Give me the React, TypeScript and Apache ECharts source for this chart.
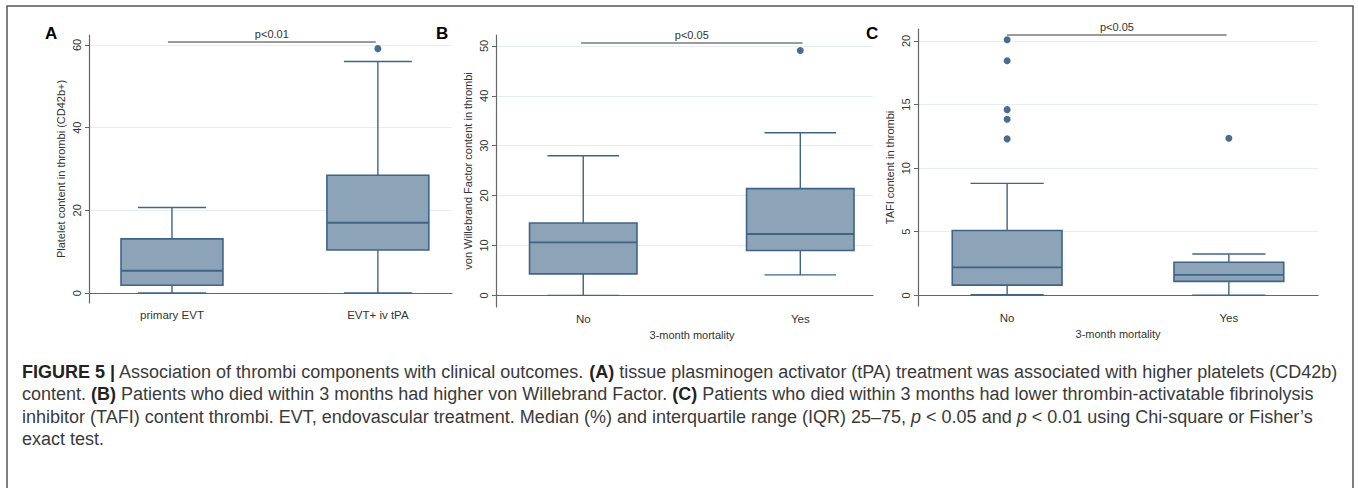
import React, { useEffect, useRef } from "react";
import * as echarts from "echarts";

// ---------- data ----------
const catsA = ["primary EVT", "EVT+ iv tPA"];
// [position, min, q1, median, q3, max]
const boxesA = [
  [1, 0, 1.9, 5.4, 13.1, 20.7],
  [2, 0, 10.4, 17.0, 28.5, 56.0],
];
const outliersA = [[2, 59.1]];
const ticksA = [0, 20, 40, 60];

const catsB = ["No", "Yes"];
const boxesB = [
  [1, 0, 4.3, 10.6, 14.5, 28.0],
  [2, 4.1, 9.0, 12.3, 21.4, 32.6],
];
const outliersB = [[2, 49.1]];
const ticksB = [0, 10, 20, 30, 40, 50];

const catsC = ["No", "Yes"];
const boxesC = [
  [1, 0.05, 0.8, 2.2, 5.1, 8.8],
  [2, 0, 1.1, 1.6, 2.6, 3.25],
];
const outliersC = [
  [1, 20.1],
  [1, 18.45],
  [1, 14.6],
  [1, 13.85],
  [1, 12.3],
  [2, 12.35],
];
const ticksC = [0, 5, 10, 15, 20];

const yNames = [
  "Platelet content in thrombi (CD42b+)",
  "von Willebrand Factor content in thrombi",
  "TAFI content in thrombi",
];
const xNames = ["", "3-month mortality", "3-month mortality"];
const pLabels = ["p<0.01", "p<0.05", "p<0.05"];
const panelLetters = ["A", "B", "C"];

const captionLines = [
  "{b|FIGURE 5 |} Association of thrombi components with clinical outcomes. {b|(A)} tissue plasminogen activator (tPA) treatment was associated with higher platelets (CD42b)",
  "content. {b|(B)} Patients who died within 3 months had higher von Willebrand Factor. {b|(C)} Patients who died within 3 months had lower thrombin-activatable fibrinolysis",
  "inhibitor (TAFI) content thrombi. EVT, endovascular treatment. Median (%) and interquartile range (IQR) 25\u201375, {i|p} < 0.05 and {i|p} < 0.01 using Chi-square or Fisher\u2019s",
  "exact test.",
];

// ---------- layout / style ----------
const FONT = "'Liberation Sans', Arial, Helvetica, sans-serif";
const BOX_FILL = "#8da3b7";
const BOX_LINE = "#3f6487";
const DOT = "#1b4775";
const AXIS = "#666666";
const GRID = "#e5eef0";
const CAP_SIZE = 18;

const grids = [
  { left: 89, top: 35, width: 363, height: 268 },
  { left: 496, top: 35, width: 377, height: 272 },
  { left: 918, top: 29, width: 400, height: 277 },
];
const xRanges = [
  [0.597, 2.36],
  [0.598, 2.335],
  [0.598, 2.402],
];
const yRanges = [
  [-2.4, 62.4],
  [-2.34, 52.2],
  [-0.84, 20.94],
];
const pBars = [
  { from: 0.98, to: 1.99, y: 60.8 },
  { from: 0.99, to: 2.01, y: 50.74 },
  { from: 1.0, to: 1.99, y: 20.47 },
];
const letterPos = [
  [45, 33],
  [436, 33],
  [866, 33],
];

const BW = 0.2475; // box half width (axis units)
const CW = 0.165; // cap half width

function renderBox(params: any, api: any) {
  const x = api.value(0);
  const mn = api.value(1);
  const q1 = api.value(2);
  const md = api.value(3);
  const q3 = api.value(4);
  const mx = api.value(5);
  const c = (dx: number, v: number) => api.coord([x + dx, v]);
  const [cx, yMax] = c(0, mx);
  const [, yMin] = c(0, mn);
  const [xl, yQ3] = c(-BW, q3);
  const [xr, yQ1] = c(BW, q1);
  const [, yMd] = c(0, md);
  const [cl] = c(-CW, 0);
  const [cr] = c(CW, 0);
  const ls = { stroke: BOX_LINE, lineWidth: 1.4 };
  return {
    type: "group",
    children: [
      { type: "line", shape: { x1: cx, y1: yMax, x2: cx, y2: yQ3 }, style: ls },
      { type: "line", shape: { x1: cx, y1: yQ1, x2: cx, y2: yMin }, style: ls },
      { type: "line", shape: { x1: cl, y1: yMax, x2: cr, y2: yMax }, style: ls },
      { type: "line", shape: { x1: cl, y1: yMin, x2: cr, y2: yMin }, style: ls },
      {
        type: "rect",
        shape: { x: xl, y: yQ3, width: xr - xl, height: yQ1 - yQ3 },
        style: { fill: BOX_FILL, stroke: BOX_LINE, lineWidth: 1.6 },
      },
      { type: "line", shape: { x1: xl, y1: yMd, x2: xr, y2: yMd }, style: { stroke: BOX_LINE, lineWidth: 1.8 } },
    ],
  };
}

export default function App() {
  const ref = useRef<HTMLDivElement>(null);

  useEffect(() => {
    if (!ref.current) return;
    const chart = echarts.init(ref.current, undefined, { renderer: "svg" });

    const cats = [catsA, catsB, catsC];
    const boxes = [boxesA, boxesB, boxesC];
    const outs = [outliersA, outliersB, outliersC];
    const ticks = [ticksA, ticksB, ticksC];

    const xAxis = cats.map((cs, i) => ({
      type: "value",
      gridIndex: i,
      min: xRanges[i][0],
      max: xRanges[i][1],
      axisLine: { show: true, lineStyle: { color: AXIS, width: 1.2 } },
      axisTick: { show: false },
      splitLine: { show: false },
      axisLabel: {
        customValues: [1, 2],
        formatter: (v: number) => cs[Math.round(v) - 1] ?? "",
        color: "#333",
        fontSize: 11.5,
        fontFamily: FONT,
        margin: 6,
      },
      name: xNames[i],
      nameLocation: "middle",
      nameGap: 19,
      nameTextStyle: {
        color: "#333",
        fontSize: 11,
        fontFamily: FONT,
        padding: i === 1 ? [0, 0, 0, 15] : 0,
      },
    }));

    const yAxis = ticks.map((t, i) => ({
      type: "value",
      gridIndex: i,
      min: yRanges[i][0],
      max: yRanges[i][1],
      axisLine: { show: true, lineStyle: { color: AXIS, width: 1.2 } },
      axisTick: { show: true, length: 4, lineStyle: { color: AXIS }, customValues: t },
      splitLine: { show: true, lineStyle: { color: GRID, width: 1 } },
      axisLabel: {
        customValues: t,
        rotate: 90,
        color: "#333",
        fontSize: 11,
        fontFamily: FONT,
        margin: 7,
      },
      name: yNames[i],
      nameLocation: "middle",
      nameRotate: 90,
      nameGap: 23,
      nameTextStyle: { color: "#333", fontSize: 11, fontFamily: FONT },
    }));

    const series: any[] = [];
    boxes.forEach((b, i) => {
      series.push({
        type: "custom",
        xAxisIndex: i,
        yAxisIndex: i,
        data: b,
        encode: { x: 0, y: [1, 2, 3, 4, 5] },
        renderItem: renderBox,
        silent: true,
        z: 3,
      });
      series.push({
        type: "scatter",
        xAxisIndex: i,
        yAxisIndex: i,
        data: outs[i],
        symbol: "circle",
        symbolSize: 7,
        itemStyle: { color: DOT },
        silent: true,
        z: 4,
        markLine: {
          silent: true,
          symbol: "none",
          animation: false,
          lineStyle: { color: "#7a7a7a", width: 1.6, type: "solid" },
          label: {
            show: true,
            position: "insideMiddleTop",
            formatter: pLabels[i],
            color: "#333",
            fontSize: 11,
            fontFamily: FONT,
            distance: 2,
          },
          data: [
            [
              { coord: [pBars[i].from, pBars[i].y] },
              { coord: [pBars[i].to, pBars[i].y] },
            ],
          ],
        },
      });
    });

    const graphic: any[] = [
      {
        type: "rect",
        shape: { x: 7, y: 6, width: 1346, height: 495 },
        style: { fill: "none", stroke: "#555", lineWidth: 1.5 },
        silent: true,
        z: 10,
      },
      ...panelLetters.map((l, i) => ({
        type: "text",
        x: letterPos[i][0],
        y: letterPos[i][1],
        style: {
          text: l,
          fill: "#000",
          font: `bold 17px ${FONT}`,
          textVerticalAlign: "middle",
        },
        silent: true,
      })),
      ...captionLines.map((line, k) => ({
        type: "text",
        x: 22,
        y: 372 + k * 22.3,
        style: {
          text: line,
          fill: "#3a3a3a",
          fontSize: CAP_SIZE,
          fontFamily: FONT,
          textVerticalAlign: "middle",
          rich: {
            b: { fontWeight: "bold", fill: "#222", fontSize: CAP_SIZE, fontFamily: FONT },
            i: { fontStyle: "italic", fill: "#3a3a3a", fontSize: CAP_SIZE, fontFamily: FONT },
          },
        },
        silent: true,
      })),
    ];

    chart.setOption({
      animation: false,
      backgroundColor: "#ffffff",
      grid: grids.map((g) => ({ ...g, containLabel: false })),
      xAxis,
      yAxis,
      series,
      graphic,
    });

    return () => chart.dispose();
  }, []);

  return (
    <div
      ref={ref}
      style={{ position: "absolute", left: 0, top: 0, width: 1358, height: 488, background: "#fff" }}
    />
  );
}
